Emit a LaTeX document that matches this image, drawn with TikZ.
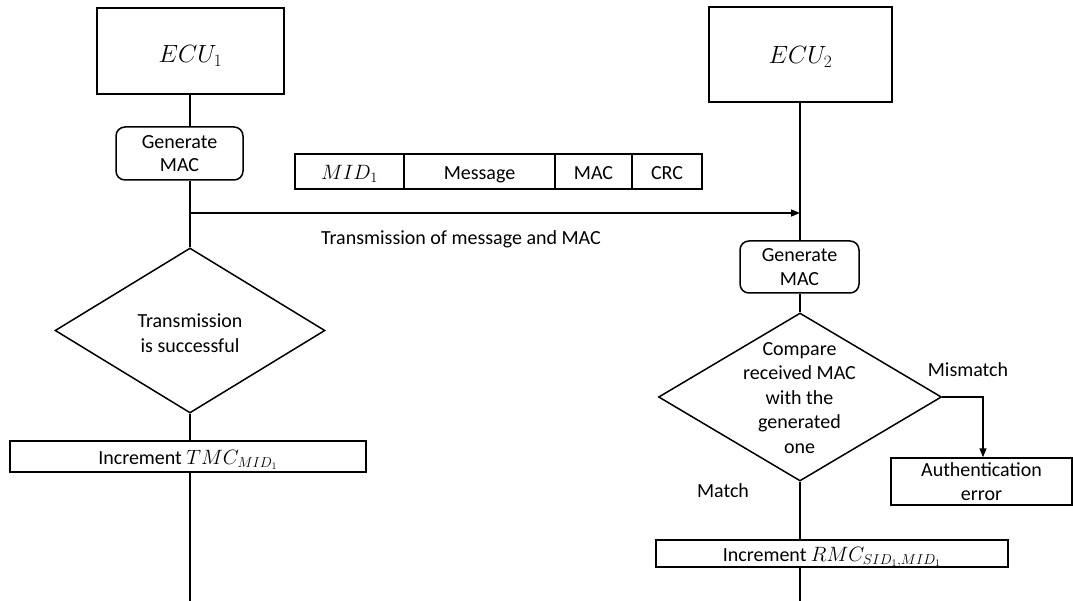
\documentclass[tikz,border=0pt]{standalone}
\usepackage{fontspec}
\setmainfont{Carlito}
\usetikzlibrary{shapes.geometric,arrows.meta}

\begin{document}
\begin{tikzpicture}[x=1pt,y=-1pt,line width=1.5pt,
  every node/.style={font=\fontsize{20}{24.5}\selectfont},
  box/.style={draw,rectangle,inner sep=0pt,align=center},
  cell/.style={box,text height=16pt,text depth=0pt},
  rbox/.style={box,rounded corners=9pt},
  dec/.style={draw,diamond,inner sep=0pt},
  txt/.style={inner sep=0pt,align=center},
  ecutext/.style={inner sep=0pt,font=\fontsize{24}{28}\selectfont},
  flow/.style={-{Triangle[length=9pt,width=7pt]}}]
\useasboundingbox (0,0) rectangle (1073,601);

% ---- sender side ----
\node[box,minimum width=187,minimum height=86] (ecu1) at (190.5,51) {};
\node[ecutext] (ecu1t) at (190.5,56) {$ECU_1$};
\node[rbox,minimum width=127,minimum height=53] (gen1) at (179.5,153.5) {Generate\\[-1pt]MAC};
\node[dec,minimum width=270,minimum height=165] (d1) at (190,330.5) {};
\node[txt] (d1t) at (190,333) {Transmission\\is successful};
\node[cell,minimum width=356,minimum height=31] (inc1) at (188,456.5) {Increment $TMC_{MID_1}$};
\coordinate (end1) at (190,601);
\coordinate (tx) at (190,213);

% ---- frame on the bus ----
\node[cell,minimum width=109,minimum height=35] (fmid) at (349.5,171.5) {$MID_1$};
\node[cell,minimum width=151,minimum height=35] (fmsg) at (479.5,171.5) {Message};
\node[cell,minimum width=77,minimum height=35] (fmac) at (593.5,171.5) {MAC};
\node[cell,minimum width=70,minimum height=35] (fcrc) at (667,171.5) {CRC};
\node[txt] (txlabel) at (461,239) {Transmission of message and MAC};

% ---- receiver side ----
\node[box,minimum width=183,minimum height=95] (ecu2) at (800.5,54.5) {};
\node[ecutext] (ecu2t) at (800.5,57) {$ECU_2$};
\node[rbox,minimum width=119,minimum height=52] (gen2) at (799.5,267) {Generate\\[-1pt]MAC};
\node[dec,minimum width=283,minimum height=168] (d2) at (800,397) {};
\node[txt] (d2t) at (799.5,398) {Compare\\received MAC\\with the\\generated\\one};
\node[box,minimum width=181,minimum height=47] (auth) at (981.5,481.5) {Authentication\\[-1pt]error};
\node[cell,minimum width=352,minimum height=27] (inc2) at (832,553.5) {Increment $RMC_{SID_1,MID_1}$};
\node[txt] (mism) at (968,370) {Mismatch};
\node[txt] (match) at (723,491) {Match};
\coordinate (end2) at (800,601);
\coordinate (bend) at (983,397);

% ---- sender connectors ----
\draw (ecu1.south -| tx) -- (gen1.north -| tx);
\draw (gen1.south -| tx) -- (d1.north);
\draw (d1.south) -- (inc1.north -| tx);
\draw (inc1.south -| tx) -- (end1);

% ---- transmission ----
\draw[flow] (tx) -- (tx -| end2);

% ---- receiver connectors ----
\draw (ecu2.south -| end2) -- (gen2.north -| end2);
\draw (gen2.south -| end2) -- (d2.north);
\draw (d2.south) -- (inc2.north -| end2);
\draw (inc2.south -| end2) -- (end2);
\draw[flow] (d2.east) -- (bend) -- (auth.north -| bend);
\end{tikzpicture}
\end{document}
